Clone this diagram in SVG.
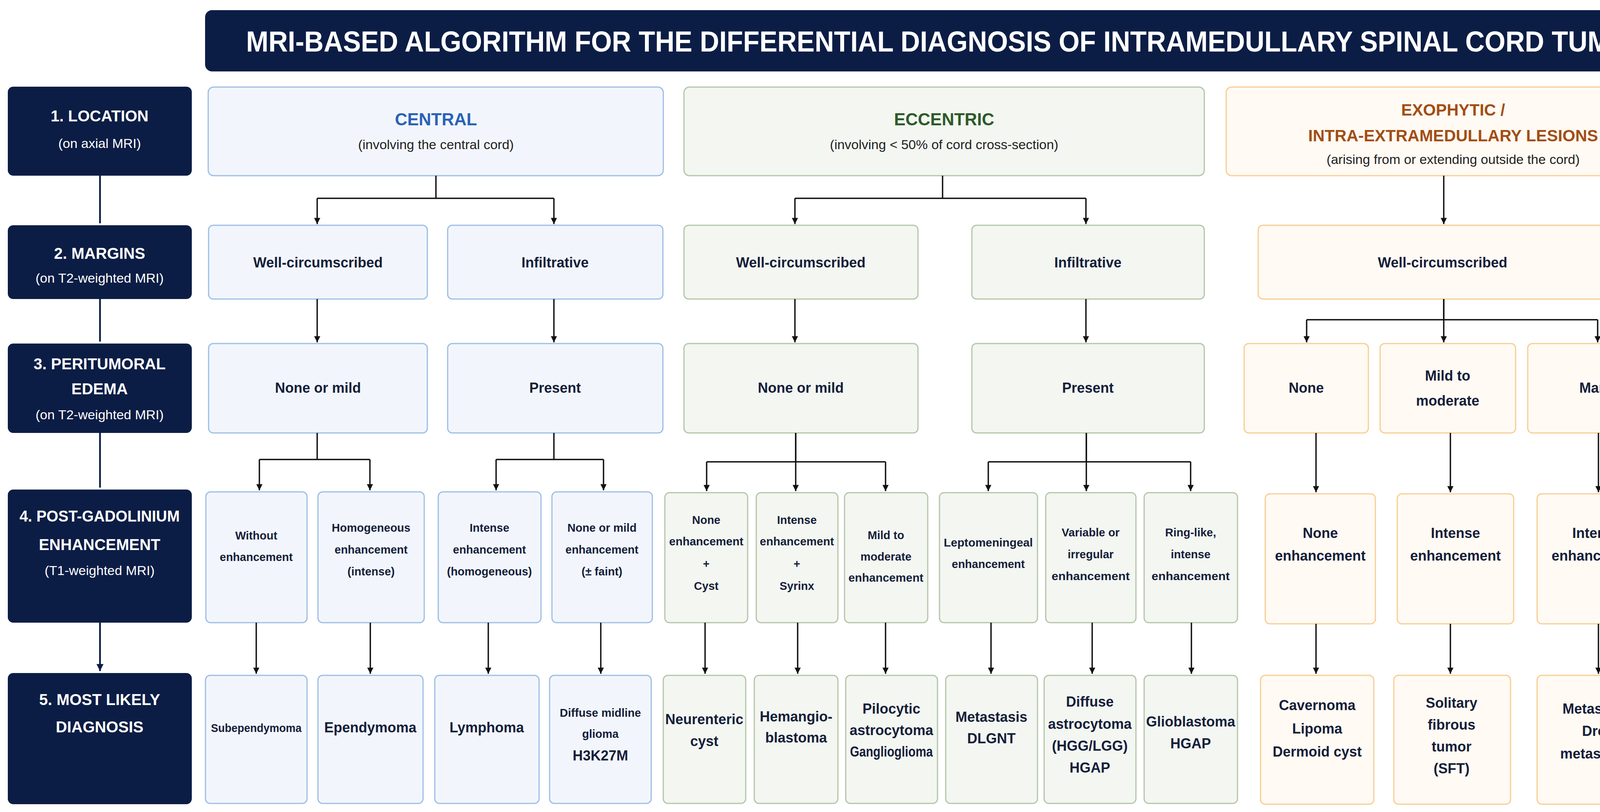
<svg xmlns="http://www.w3.org/2000/svg" width="4324" height="2080" viewBox="0 0 4324 2080">
<style>
text{font-family:"Liberation Sans",Arial,sans-serif;text-anchor:middle;font-weight:bold}
.nv{fill:#0c1d45}
.lt{fill:#fff;font-size:40px}
.ls{fill:#fff;font-size:34px;font-weight:normal}
.b{fill:#f2f6fc;stroke:#9dbde6;stroke-width:3}
.g{fill:#f3f6f1;stroke:#b3c6a8;stroke-width:3}
.o{fill:#fffaf3;stroke:#f8cd93;stroke-width:3}
.t{fill:#15203a;font-size:36px}
.s{fill:#15203a;font-size:29px}
.sub{fill:#222;font-size:34px;font-weight:normal}
.c{fill:none;stroke:#111;stroke-width:3.5}
.cl{fill:none;stroke:#0c1d45;stroke-width:4.5}
</style>
<defs>
<marker id="a" viewBox="0 0 10 10" refX="10" refY="5" markerWidth="4.5" markerHeight="5.5" markerUnits="strokeWidth" orient="auto"><path d="M0,0L10,5L0,10z" fill="#111"/></marker>
<marker id="an" viewBox="0 0 10 10" refX="10" refY="5" markerWidth="4" markerHeight="4.5" markerUnits="strokeWidth" orient="auto"><path d="M0,0L10,5L0,10z" fill="#0c1d45"/></marker>
</defs>
<rect width="4324" height="2080" fill="#fff"/>
<g id="title"><rect x="525" y="26" width="3777" height="157" rx="18" class="nv"/><text x="2450" y="132" fill="#fff" font-size="74" textLength="3640" lengthAdjust="spacingAndGlyphs">MRI-BASED ALGORITHM FOR THE DIFFERENTIAL DIAGNOSIS OF INTRAMEDULLARY SPINAL CORD TUMORS</text></g>
<g id="step1"><rect x="20" y="222" width="471" height="228" rx="14" class="nv"/><text class="lt" x="255" y="311">1. LOCATION</text><text class="ls" x="255" y="379">(on axial MRI)</text></g>
<g id="step2"><rect x="20" y="577" width="471" height="189" rx="14" class="nv"/><text class="lt" x="255" y="663">2. MARGINS</text><text class="ls" x="255" y="724">(on T2-weighted MRI)</text></g>
<g id="step3"><rect x="20" y="880" width="471" height="229" rx="14" class="nv"/><text class="lt" x="255" y="946">3. PERITUMORAL</text><text class="lt" x="255" y="1010">EDEMA</text><text class="ls" x="255" y="1074">(on T2-weighted MRI)</text></g>
<g id="step4"><rect x="20" y="1254" width="471" height="341" rx="14" class="nv"/><text class="lt" x="255" y="1336" textLength="410" lengthAdjust="spacingAndGlyphs">4. POST-GADOLINIUM</text><text class="lt" x="255" y="1409">ENHANCEMENT</text><text class="ls" x="255" y="1473">(T1-weighted MRI)</text></g>
<g id="step5"><rect x="20" y="1724" width="471" height="336" rx="14" class="nv"/><text class="lt" x="255" y="1806">5. MOST LIKELY</text><text class="lt" x="255" y="1876">DIAGNOSIS</text></g>

<g id="central"><rect class="b" x="533" y="223" width="1165" height="227" rx="14"/><text x="1116" y="321" fill="#2a62b6" font-size="44">CENTRAL</text><text class="sub" x="1116" y="382">(involving the central cord)</text></g>
<g id="eccentric"><rect class="g" x="1751" y="223" width="1332" height="227" rx="14"/><text x="2417" y="321" fill="#2e5a2a" font-size="44">ECCENTRIC</text><text class="sub" x="2417" y="382">(involving &lt; 50% of cord cross-section)</text></g>
<g id="exophytic"><rect class="o" x="3139" y="223" width="1163" height="227" rx="14"/><text x="3720" y="296" fill="#a24e14" font-size="42">EXOPHYTIC /</text><text x="3720" y="362" fill="#a24e14" font-size="42">INTRA-EXTRAMEDULLARY LESIONS</text><text class="sub" x="3720" y="420" font-size="31">(arising from or extending outside the cord)</text></g>

<g id="c-wc"><rect class="b" x="534" y="577" width="560" height="189" rx="12"/><text class="t" x="814" y="685">Well-circumscribed</text></g>
<g id="c-inf"><rect class="b" x="1146" y="577" width="551" height="189" rx="12"/><text class="t" x="1421" y="685">Infiltrative</text></g>
<g id="e-wc"><rect class="g" x="1751" y="577" width="599" height="189" rx="12"/><text class="t" x="2050" y="685">Well-circumscribed</text></g>
<g id="e-inf"><rect class="g" x="2488" y="577" width="595" height="189" rx="12"/><text class="t" x="2785" y="685">Infiltrative</text></g>
<g id="o-wc"><rect class="o" x="3221" y="577" width="944" height="189" rx="12"/><text class="t" x="3693" y="685">Well-circumscribed</text></g>

<g id="c-none"><rect class="b" x="534" y="880" width="560" height="229" rx="12"/><text class="t" x="814" y="1006">None or mild</text></g>
<g id="c-pres"><rect class="b" x="1146" y="880" width="551" height="229" rx="12"/><text class="t" x="1421" y="1006">Present</text></g>
<g id="e-none"><rect class="g" x="1751" y="880" width="599" height="229" rx="12"/><text class="t" x="2050" y="1006">None or mild</text></g>
<g id="e-pres"><rect class="g" x="2488" y="880" width="595" height="229" rx="12"/><text class="t" x="2785" y="1006">Present</text></g>
<g id="o-none"><rect class="o" x="3185" y="880" width="318" height="229" rx="12"/><text class="t" x="3344" y="1006">None</text></g>
<g id="o-mild"><rect class="o" x="3533" y="880" width="347" height="229" rx="12"/><text class="t" x="3706" y="975">Mild to</text><text class="t" x="3706" y="1039">moderate</text></g>
<g id="o-marked"><rect class="o" x="3911" y="880" width="391" height="229" rx="12"/><text class="t" x="4106" y="1006">Marked</text></g>

<g id="r4-1"><rect class="b" x="527" y="1260" width="259" height="335" rx="12"/><text class="s" x="656" y="1382">Without</text><text class="s" x="656" y="1437">enhancement</text></g>
<g id="r4-2"><rect class="b" x="814" y="1260" width="272" height="335" rx="12"/><text class="s" x="950" y="1362">Homogeneous</text><text class="s" x="950" y="1418">enhancement</text><text class="s" x="950" y="1474">(intense)</text></g>
<g id="r4-3"><rect class="b" x="1122" y="1260" width="263" height="335" rx="12"/><text class="s" x="1253" y="1362">Intense</text><text class="s" x="1253" y="1418">enhancement</text><text class="s" x="1253" y="1474">(homogeneous)</text></g>
<g id="r4-4"><rect class="b" x="1413" y="1260" width="257" height="335" rx="12"/><text class="s" x="1541" y="1362">None or mild</text><text class="s" x="1541" y="1418">enhancement</text><text class="s" x="1541" y="1474">(± faint)</text></g>
<g id="r4-5"><rect class="g" x="1702" y="1262" width="212" height="333" rx="12"/><text class="s" x="1808" y="1342">None</text><text class="s" x="1808" y="1397" textLength="190" lengthAdjust="spacingAndGlyphs">enhancement</text><text class="s" x="1808" y="1454">+</text><text class="s" x="1808" y="1511">Cyst</text></g>
<g id="r4-6"><rect class="g" x="1936" y="1262" width="209" height="333" rx="12"/><text class="s" x="2040" y="1342">Intense</text><text class="s" x="2040" y="1397" textLength="190" lengthAdjust="spacingAndGlyphs">enhancement</text><text class="s" x="2040" y="1454">+</text><text class="s" x="2040" y="1511">Syrinx</text></g>
<g id="r4-7"><rect class="g" x="2162" y="1262" width="213" height="333" rx="12"/><text class="s" x="2268" y="1381">Mild to</text><text class="s" x="2268" y="1436">moderate</text><text class="s" x="2268" y="1490" textLength="192" lengthAdjust="spacingAndGlyphs">enhancement</text></g>
<g id="r4-8"><rect class="g" x="2405" y="1262" width="251" height="333" rx="12"/><text class="s" x="2530" y="1400" textLength="228" lengthAdjust="spacingAndGlyphs">Leptomeningeal</text><text class="s" x="2530" y="1455">enhancement</text></g>
<g id="r4-9"><rect class="g" x="2677" y="1262" width="231" height="333" rx="12"/><text class="s" x="2792" y="1374">Variable or</text><text class="s" x="2792" y="1430">irregular</text><text class="s" x="2792" y="1486" textLength="200" lengthAdjust="spacingAndGlyphs">enhancement</text></g>
<g id="r4-10"><rect class="g" x="2929" y="1262" width="239" height="333" rx="12"/><text class="s" x="3048" y="1374">Ring-like,</text><text class="s" x="3048" y="1430">intense</text><text class="s" x="3048" y="1486" textLength="200" lengthAdjust="spacingAndGlyphs">enhancement</text></g>
<g id="r4-11"><rect class="o" x="3239" y="1265" width="282" height="333" rx="12"/><text class="t" x="3380" y="1378" font-size="32">None</text><text class="t" x="3380" y="1436" font-size="32">enhancement</text></g>
<g id="r4-12"><rect class="o" x="3577" y="1265" width="298" height="333" rx="12"/><text class="t" x="3726" y="1378" font-size="32">Intense</text><text class="t" x="3726" y="1436" font-size="32">enhancement</text></g>
<g id="r4-13"><rect class="o" x="3935" y="1265" width="307" height="333" rx="12"/><text class="t" x="4088" y="1378" font-size="32">Intense</text><text class="t" x="4088" y="1436" font-size="32">enhancement</text></g>

<g id="d1"><rect class="b" x="526" y="1730" width="260" height="328" rx="12"/><text class="s" x="656" y="1875" textLength="232" lengthAdjust="spacingAndGlyphs">Subependymoma</text></g>
<g id="d2"><rect class="b" x="814" y="1730" width="269" height="328" rx="12"/><text class="t" x="948" y="1876" font-size="32">Ependymoma</text></g>
<g id="d3"><rect class="b" x="1113" y="1730" width="267" height="328" rx="12"/><text class="t" x="1246" y="1876" font-size="32">Lymphoma</text></g>
<g id="d4"><rect class="b" x="1407" y="1730" width="260" height="328" rx="12"/><text class="s" x="1537" y="1836">Diffuse midline</text><text class="s" x="1537" y="1890">glioma</text><text class="t" x="1537" y="1948" font-size="34">H3K27M</text></g>
<g id="d5"><rect class="g" x="1698" y="1730" width="211" height="328" rx="12"/><text class="t" x="1803" y="1855" font-size="31">Neurenteric</text><text class="t" x="1803" y="1911" font-size="31">cyst</text></g>
<g id="d6"><rect class="g" x="1931" y="1730" width="214" height="328" rx="12"/><text class="t" x="2038" y="1848" font-size="31">Hemangio-</text><text class="t" x="2038" y="1902" font-size="31">blastoma</text></g>
<g id="d7"><rect class="g" x="2165" y="1730" width="235" height="328" rx="12"/><text class="t" x="2282" y="1828" font-size="31">Pilocytic</text><text class="t" x="2282" y="1883" font-size="31">astrocytoma</text><text class="t" x="2282" y="1938" font-size="31" textLength="212" lengthAdjust="spacingAndGlyphs">Ganglioglioma</text></g>
<g id="d8"><rect class="g" x="2421" y="1730" width="235" height="328" rx="12"/><text class="t" x="2538" y="1849" font-size="31">Metastasis</text><text class="t" x="2538" y="1904" font-size="31">DLGNT</text></g>
<g id="d9"><rect class="g" x="2673" y="1730" width="235" height="328" rx="12"/><text class="t" x="2790" y="1810" font-size="31">Diffuse</text><text class="t" x="2790" y="1867" font-size="31">astrocytoma</text><text class="t" x="2790" y="1923" font-size="31">(HGG/LGG)</text><text class="t" x="2790" y="1979" font-size="31">HGAP</text></g>
<g id="d10"><rect class="g" x="2929" y="1730" width="239" height="328" rx="12"/><text class="t" x="3048" y="1861" font-size="31">Glioblastoma</text><text class="t" x="3048" y="1917" font-size="31">HGAP</text></g>
<g id="d11"><rect class="o" x="3227" y="1730" width="290" height="330" rx="12"/><text class="t" x="3372" y="1819" font-size="32">Cavernoma</text><text class="t" x="3372" y="1879" font-size="32">Lipoma</text><text class="t" x="3372" y="1938" font-size="32">Dermoid cyst</text></g>
<g id="d12"><rect class="o" x="3568" y="1730" width="299" height="330" rx="12"/><text class="t" x="3716" y="1813" font-size="32">Solitary</text><text class="t" x="3716" y="1869" font-size="32">fibrous</text><text class="t" x="3716" y="1925" font-size="32">tumor</text><text class="t" x="3716" y="1981" font-size="32">(SFT)</text></g>
<g id="d13"><rect class="o" x="3935" y="1730" width="315" height="330" rx="12"/><text class="t" x="4092" y="1828" font-size="32">Metastasis</text><text class="t" x="4092" y="1885" font-size="32">Drop</text><text class="t" x="4092" y="1943" font-size="32">metastases</text></g>

<g id="connectors">
<path class="cl" marker-end="url(#an)" d="M256 450V572M256 766V875M256 1109V1249M256 1595V1719"/>
<path class="c" d="M1116 450V508H812M1116 508H1418"/>
<path class="c" marker-end="url(#a)" d="M812 508V574"/><path class="c" marker-end="url(#a)" d="M1418 508V574"/>
<path class="c" marker-end="url(#a)" d="M812 766V877"/><path class="c" marker-end="url(#a)" d="M1418 766V877"/>
<path class="c" d="M812 1109V1177H664M812 1177H947M1418 1109V1177H1270M1418 1177H1545"/>
<path class="c" marker-end="url(#a)" d="M664 1177V1256"/><path class="c" marker-end="url(#a)" d="M947 1177V1256"/><path class="c" marker-end="url(#a)" d="M1270 1177V1256"/><path class="c" marker-end="url(#a)" d="M1545 1177V1256"/>
<path class="c" marker-end="url(#a)" d="M656 1595V1726"/><path class="c" marker-end="url(#a)" d="M948 1595V1726"/><path class="c" marker-end="url(#a)" d="M1250 1595V1726"/><path class="c" marker-end="url(#a)" d="M1538 1595V1726"/>
<path class="c" d="M2413 450V508H2035M2413 508H2780"/>
<path class="c" marker-end="url(#a)" d="M2035 508V574"/><path class="c" marker-end="url(#a)" d="M2780 508V574"/>
<path class="c" marker-end="url(#a)" d="M2035 766V877"/><path class="c" marker-end="url(#a)" d="M2780 766V877"/>
<path class="c" d="M2037 1109V1183H1809M2037 1183H2267M2781 1109V1183H2530M2781 1183H3048"/>
<path class="c" marker-end="url(#a)" d="M1809 1183V1258"/><path class="c" marker-end="url(#a)" d="M2037 1109V1258"/><path class="c" marker-end="url(#a)" d="M2267 1183V1258"/><path class="c" marker-end="url(#a)" d="M2530 1183V1258"/><path class="c" marker-end="url(#a)" d="M2781 1109V1258"/><path class="c" marker-end="url(#a)" d="M3048 1183V1258"/>
<path class="c" marker-end="url(#a)" d="M1805 1595V1726"/><path class="c" marker-end="url(#a)" d="M2042 1595V1726"/><path class="c" marker-end="url(#a)" d="M2267 1595V1726"/><path class="c" marker-end="url(#a)" d="M2537 1595V1726"/><path class="c" marker-end="url(#a)" d="M2796 1595V1726"/><path class="c" marker-end="url(#a)" d="M3050 1595V1726"/>
<path class="c" marker-end="url(#a)" d="M3696 450V574"/>
<path class="c" d="M3696 766V819H3345M3696 819H4090"/>
<path class="c" marker-end="url(#a)" d="M3345 819V877"/><path class="c" marker-end="url(#a)" d="M3696 766V877"/><path class="c" marker-end="url(#a)" d="M4090 819V877"/>
<path class="c" marker-end="url(#a)" d="M3369 1109V1261"/><path class="c" marker-end="url(#a)" d="M3713 1109V1261"/><path class="c" marker-end="url(#a)" d="M4092 1109V1261"/>
<path class="c" marker-end="url(#a)" d="M3369 1598V1726"/><path class="c" marker-end="url(#a)" d="M3713 1598V1726"/><path class="c" marker-end="url(#a)" d="M4092 1598V1726"/>
</g>
</svg>
